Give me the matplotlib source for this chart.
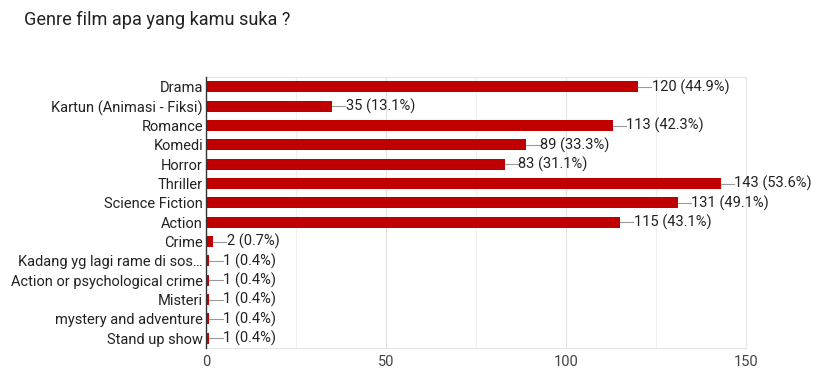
import matplotlib.pyplot as plt
import numpy as np

plt.rcParams['font.family'] = ['Roboto', 'DejaVu Sans']

genres = ["Drama", "Kartun (Animasi - Fiksi)", "Romance", "Komedi", "Horror",
          "Thriller", "Science Fiction", "Action", "Crime",
          "Kadang yg lagi rame di sos\u2026", "Action or psychological crime",
          "Misteri", "mystery and adventure", "Stand up show"]
counts = [120, 35, 113, 89, 83, 143, 131, 115, 2, 1, 1, 1, 1, 1]
pcts = ["44.9%", "13.1%", "42.3%", "33.3%", "31.1%", "53.6%", "49.1%",
        "43.1%", "0.7%", "0.4%", "0.4%", "0.4%", "0.4%", "0.4%"]
xticks = [0, 50, 100, 150]

fs = 10.5

fig = plt.figure(figsize=(8.17, 3.71), dpi=100)
ax = fig.add_axes([0.252, 0.062, 0.661, 0.730])

y = np.arange(len(genres))
ax.barh(y, counts, height=0.57, color='#c00000', zorder=3)

# short grey leader line then the value label
for yi, c, p in zip(y, counts, pcts):
    ax.plot([c, c + 3.7], [yi, yi], color='#999999', lw=0.8, zorder=3)
    ax.text(c + 3.8, yi, f"{c} ({p})", va='center', ha='left',
            fontsize=fs, color='#222222')

ax.set_xlim(0, 150)
ax.set_ylim(len(genres) - 0.5, -0.5)
ax.set_yticks(y)
ax.set_yticklabels(genres, fontsize=fs, color='#222222')
ax.set_xticks(xticks)
ax.set_xticklabels([str(t) for t in xticks], fontsize=fs, color='#444444')
ax.set_xticks([25, 75, 125], minor=True)
ax.tick_params(axis='both', which='both', length=0)
ax.tick_params(axis='x', which='both', pad=5)
ax.tick_params(axis='y', pad=2)
ax.grid(axis='x', which='major', color='#e3e3e3', lw=0.8, zorder=0)
ax.grid(axis='x', which='minor', color='#f0f0f0', lw=0.8, zorder=0)

for s in ['top', 'right', 'bottom']:
    ax.spines[s].set_color('#e6e6e6')
    ax.spines[s].set_linewidth(0.8)
ax.spines['left'].set_color('#333333')
ax.spines['left'].set_linewidth(1.0)
ax.spines['left'].set_zorder(4)

fig.text(24 / 817, 1 - 20 / 371, "Genre film apa yang kamu suka ?",
         fontsize=13.1, color='#222222', va='center', ha='left')

fig.savefig('out.png', dpi=100, facecolor='white')
